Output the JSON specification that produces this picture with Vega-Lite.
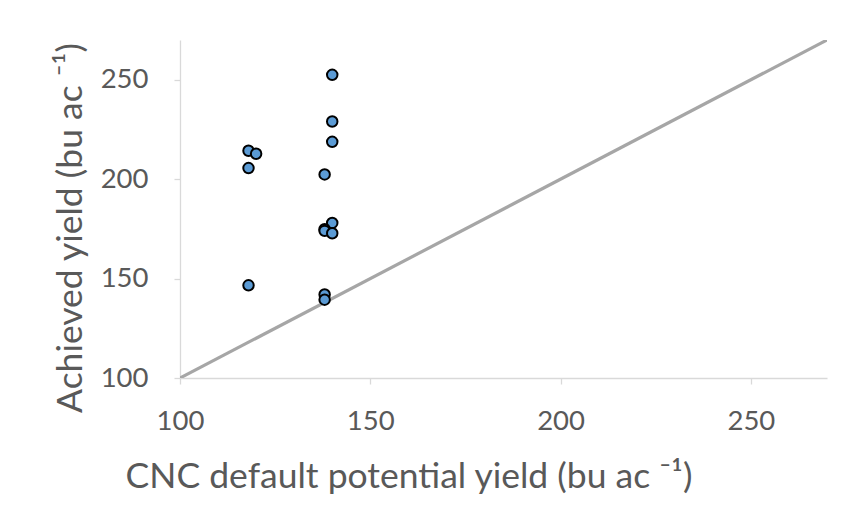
{
  "$schema": "https://vega.github.io/schema/vega-lite/v6.json",
  "width": 647,
  "height": 338,
  "autosize": {"type": "none"},
  "padding": {"left": 180, "top": 40, "right": 36, "bottom": 144},
  "background": "white",
  "config": {
    "view": {"stroke": null},
    "font": "Lato",
    "axis": {
      "grid": false,
      "domainColor": "#d9d9d9",
      "domainWidth": 1.3,
      "tickColor": "#d9d9d9",
      "tickWidth": 1.3,
      "tickSize": 6,
      "labelColor": "#595959",
      "labelFont": "Lato",
      "labelFontSize": 27.5,
      "labelFlush": false,
      "labelOverlap": false,
      "titleColor": "#595959",
      "titleFont": "Lato",
      "titleFontSize": 35.5,
      "titleFontWeight": "normal"
    }
  },
  "datasets": {
    "points": [
      {"cnc": 140, "achieved": 252.5},
      {"cnc": 140, "achieved": 229},
      {"cnc": 140, "achieved": 218.8},
      {"cnc": 118, "achieved": 214.3},
      {"cnc": 120, "achieved": 212.8},
      {"cnc": 118, "achieved": 205.6},
      {"cnc": 138, "achieved": 202.4},
      {"cnc": 140, "achieved": 178},
      {"cnc": 138, "achieved": 174.8},
      {"cnc": 138, "achieved": 174},
      {"cnc": 140, "achieved": 172.8},
      {"cnc": 118, "achieved": 146.6},
      {"cnc": 138, "achieved": 142},
      {"cnc": 138, "achieved": 139.4}
    ],
    "line": [
      {"cnc": 100, "achieved": 100},
      {"cnc": 270, "achieved": 270}
    ]
  },
  "layer": [
    {
      "data": {"name": "line"},
      "mark": {"type": "line", "color": "#a6a6a6", "strokeWidth": 3.2, "clip": true},
      "encoding": {
        "x": {"field": "cnc", "type": "quantitative"},
        "y": {"field": "achieved", "type": "quantitative"}
      }
    },
    {
      "data": {"name": "points"},
      "mark": {"type": "point", "filled": true, "fill": "#5b9bd5", "stroke": "#000000", "strokeWidth": 2, "opacity": 1, "size": 110},
      "encoding": {
        "x": {
          "field": "cnc",
          "type": "quantitative",
          "scale": {"domain": [100, 270], "nice": false, "zero": false},
          "axis": {"values": [100, 150, 200, 250], "labelPadding": 23, "title": "CNC default potential yield (bu ac ⁻¹)", "titleX": 228.5, "titleY": 98, "titleBaseline": "middle", "titleAlign": "center"}
        },
        "y": {
          "field": "achieved",
          "type": "quantitative",
          "scale": {"domain": [100, 270], "nice": false, "zero": false},
          "axis": {"values": [100, 150, 200, 250], "labelPadding": 26, "title": "Achieved yield (bu ac ⁻¹)", "titleX": -110, "titleY": 187.5, "titleBaseline": "middle", "titleAlign": "center", "titleAngle": -90}
        }
      }
    }
  ]
}
